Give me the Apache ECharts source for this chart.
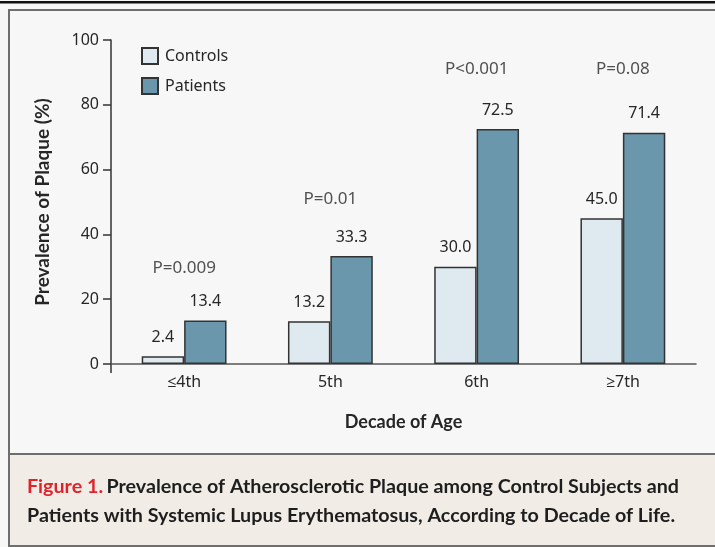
<!DOCTYPE html>
<html>
<head>
<meta charset="utf-8">
<script src="https://cdn.jsdelivr.net/npm/echarts@6/dist/echarts.min.js"></script>
<style>
html,body{margin:0;padding:0;background:#f7f7f7;}
#chart{width:715px;height:547px;}
</style>
</head>
<body>
<div id="chart"></div>
<script>
// ---- data ----
var categories = ['\u22644th', '5th', '6th', '\u22657th'];
var controls = [2.4, 13.2, 30.0, 45.0];
var patients = [13.4, 33.3, 72.5, 71.4];
var pValues = ['P=0.009', 'P=0.01', 'P<0.001', 'P=0.08'];
var pLevels = [29.6, 50.9, 91.0, 91.0];
var yTicks = [0, 20, 40, 60, 80, 100];

// ---- styling ----
var FONT = '"Noto Sans", "Open Sans", sans-serif';
var BOLD = 'Lato, "Noto Sans", sans-serif';
var TXT = '#262626';

var chart = echarts.init(document.getElementById('chart'), null, {renderer: 'canvas'});

var option = {
  backgroundColor: '#f7f7f7',
  animation: false,
  textStyle: {fontFamily: FONT, color: TXT},
  grid: {left: 111, right: 19, top: 40, bottom: 183, containLabel: false},
  legend: {
    orient: 'vertical', left: 136, top: 42,
    itemWidth: 16, itemHeight: 16, itemGap: 12,
    icon: 'rect',
    textStyle: {fontFamily: FONT, fontSize: 16, color: TXT, padding: [0, 0, 0, 2]},
    data: ['Controls', 'Patients']
  },
  xAxis: {
    type: 'category', data: categories,
    axisLine: {lineStyle: {color: '#555', width: 1.5}},
    axisTick: {show: false},
    axisLabel: {fontFamily: FONT, fontSize: 16, color: TXT, margin: 10},
    name: 'Decade of Age', nameLocation: 'middle', nameGap: 49,
    nameTextStyle: {fontFamily: BOLD, fontWeight: 'bold', fontSize: 18, color: TXT}
  },
  yAxis: {
    type: 'value', min: yTicks[0], max: yTicks[yTicks.length - 1], interval: 20,
    axisLine: {show: true, lineStyle: {color: '#333', width: 1.5}},
    axisTick: {show: true, length: 8, lineStyle: {color: '#333', width: 1.5}},
    axisLabel: {fontFamily: FONT, fontSize: 16, color: TXT, margin: 12},
    splitLine: {show: false}
  },
  series: [
    {
      name: 'Controls', type: 'bar', data: controls,
      barGap: '0%', barCategoryGap: '42%',
      itemStyle: {color: '#dfe9f0', borderColor: '#333', borderWidth: 1.5},
      label: {show: true, position: 'top', distance: 11, fontFamily: FONT, fontSize: 16, color: TXT,
        formatter: function (p) { return p.value.toFixed(1); }}
    },
    {
      name: 'Patients', type: 'bar', data: patients,
      itemStyle: {color: '#6a97ab', borderColor: '#333', borderWidth: 1.5},
      label: {show: true, position: 'top', distance: 11, fontFamily: FONT, fontSize: 16, color: TXT,
        formatter: function (p) { return p.value.toFixed(1); }}
    },
    {
      name: 'pvals', type: 'scatter', symbolSize: 0, silent: true,
      data: pLevels,
      label: {show: true, position: 'inside', fontFamily: FONT, fontSize: 17, color: TXT,
        formatter: function (p) { return pValues[p.dataIndex]; }}
    }
  ]
};
chart.setOption(option);

var origin = chart.convertToPixel({xAxisIndex: 0, yAxisIndex: 0}, [0, 0]);
var axX = 111, axY = origin[1];
var midY = (chart.convertToPixel({yAxisIndex: 0}, yTicks[0]) + chart.convertToPixel({yAxisIndex: 0}, yTicks[yTicks.length - 1])) / 2;

chart.setOption({
  graphic: [
    {type: 'rect', z: -10, silent: true, shape: {x: 0, y: 1, width: 715, height: 2.5}, style: {fill: '#111'}},
    {type: 'rect', z: -10, silent: true, shape: {x: 9, y: 10, width: 720, height: 536}, style: {fill: '#f7f7f7', stroke: '#6e6e6e', lineWidth: 2}},
    {type: 'rect', z: -9, silent: true, shape: {x: 9, y: 454, width: 720, height: 92}, style: {fill: '#f1ece6', stroke: '#6e6e6e', lineWidth: 2}},
    {type: 'line', silent: true, shape: {x1: axX, y1: axY, x2: axX, y2: axY + 9}, style: {stroke: '#333', lineWidth: 1.5}},
    {type: 'text', silent: true, x: 43, y: midY, rotation: Math.PI / 2,
      style: {text: 'Prevalence of Plaque (%)', font: 'bold 19px Lato, "Noto Sans", sans-serif', fill: TXT,
        align: 'center', verticalAlign: 'middle'}},
    {type: 'text', silent: true, x: 27, y: 487,
      style: {rich: {r: {fill: '#e0232b', fontFamily: BOLD, fontWeight: 'bold', fontSize: 19.7},
                     b: {fill: '#1e1e1e', fontFamily: BOLD, fontWeight: 'bold', fontSize: 19.7}},
        text: '{r|Figure 1.} {b|Prevalence of Atherosclerotic Plaque among Control Subjects and}',
        verticalAlign: 'middle'}},
    {type: 'text', silent: true, x: 27, y: 516,
      style: {text: 'Patients with Systemic Lupus Erythematosus, According to Decade of Life.',
        font: 'bold 19.7px Lato, "Noto Sans", sans-serif', fill: '#1e1e1e', verticalAlign: 'middle'}}
  ]
});
</script>
</body>
</html>
